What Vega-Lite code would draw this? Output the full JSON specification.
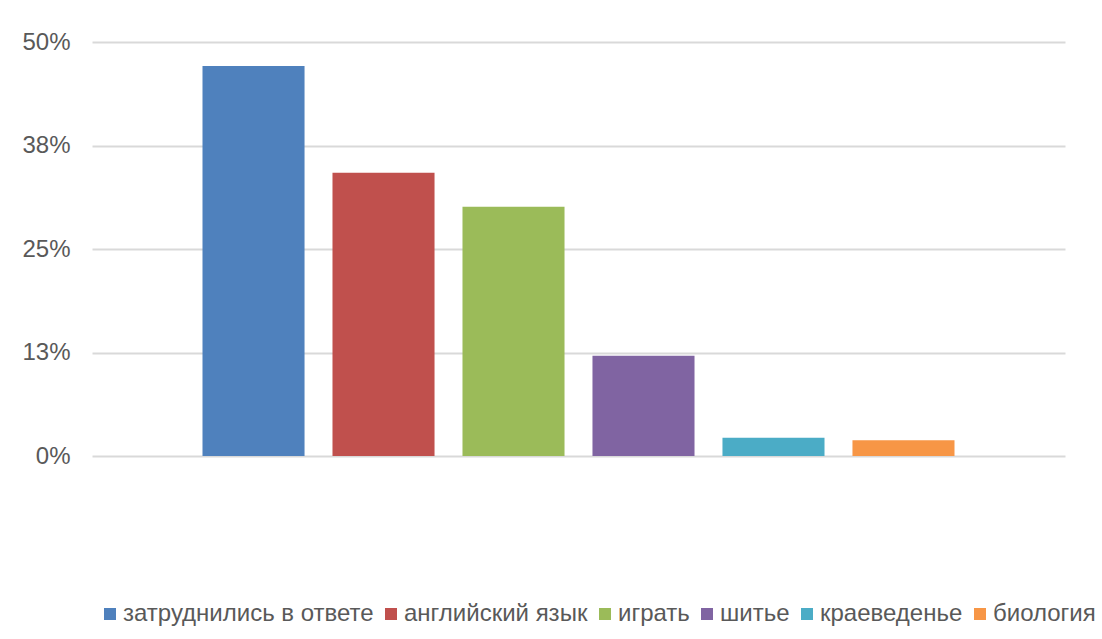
{
  "$schema": "https://vega.github.io/schema/vega-lite/v6.json",
  "autosize": "none",
  "width": 973,
  "height": 414,
  "padding": {"left": 92, "top": 42, "right": 37, "bottom": 183},
  "background": "white",
  "config": {
    "view": {"stroke": null},
    "font": "Liberation Sans"
  },
  "data": {
    "values": [
      {"category": "затруднились в ответе", "value": 0.471},
      {"category": "английский язык", "value": 0.342},
      {"category": "играть", "value": 0.301},
      {"category": "шитье", "value": 0.121},
      {"category": "краеведенье", "value": 0.022},
      {"category": "биология", "value": 0.019}
    ]
  },
  "mark": {"type": "bar"},
  "encoding": {
    "x": {
      "field": "category",
      "type": "nominal",
      "sort": null,
      "scale": {"paddingInner": 0.215, "paddingOuter": 0.85},
      "axis": null
    },
    "y": {
      "field": "value",
      "type": "quantitative",
      "scale": {"domain": [0, 0.5], "nice": false},
      "axis": {
        "values": [0, 0.125, 0.25, 0.375, 0.5],
        "format": ".0%",
        "title": null,
        "domain": false,
        "ticks": false,
        "labelPadding": 22,
        "labelFontSize": 24,
        "labelColor": "#595959",
        "gridColor": "#d9d9d9",
        "gridWidth": 2
      }
    },
    "color": {
      "field": "category",
      "type": "nominal",
      "sort": null,
      "scale": {
        "domain": ["затруднились в ответе", "английский язык", "играть", "шитье", "краеведенье", "биология"],
        "range": ["#4F81BD", "#C0504D", "#9BBB59", "#8064A2", "#4BACC6", "#F79646"]
      },
      "legend": {
        "orient": "none",
        "legendX": 6,
        "legendY": 560,
        "direction": "horizontal",
        "columns": 6,
        "title": null,
        "symbolType": "square",
        "symbolSize": 144,
        "symbolStrokeWidth": 0,
        "symbolOpacity": 1,
        "labelFontSize": 24,
        "labelLimit": 0,
        "labelColor": "#595959",
        "labelOffset": 1,
        "columnPadding": 5
      }
    }
  }
}
